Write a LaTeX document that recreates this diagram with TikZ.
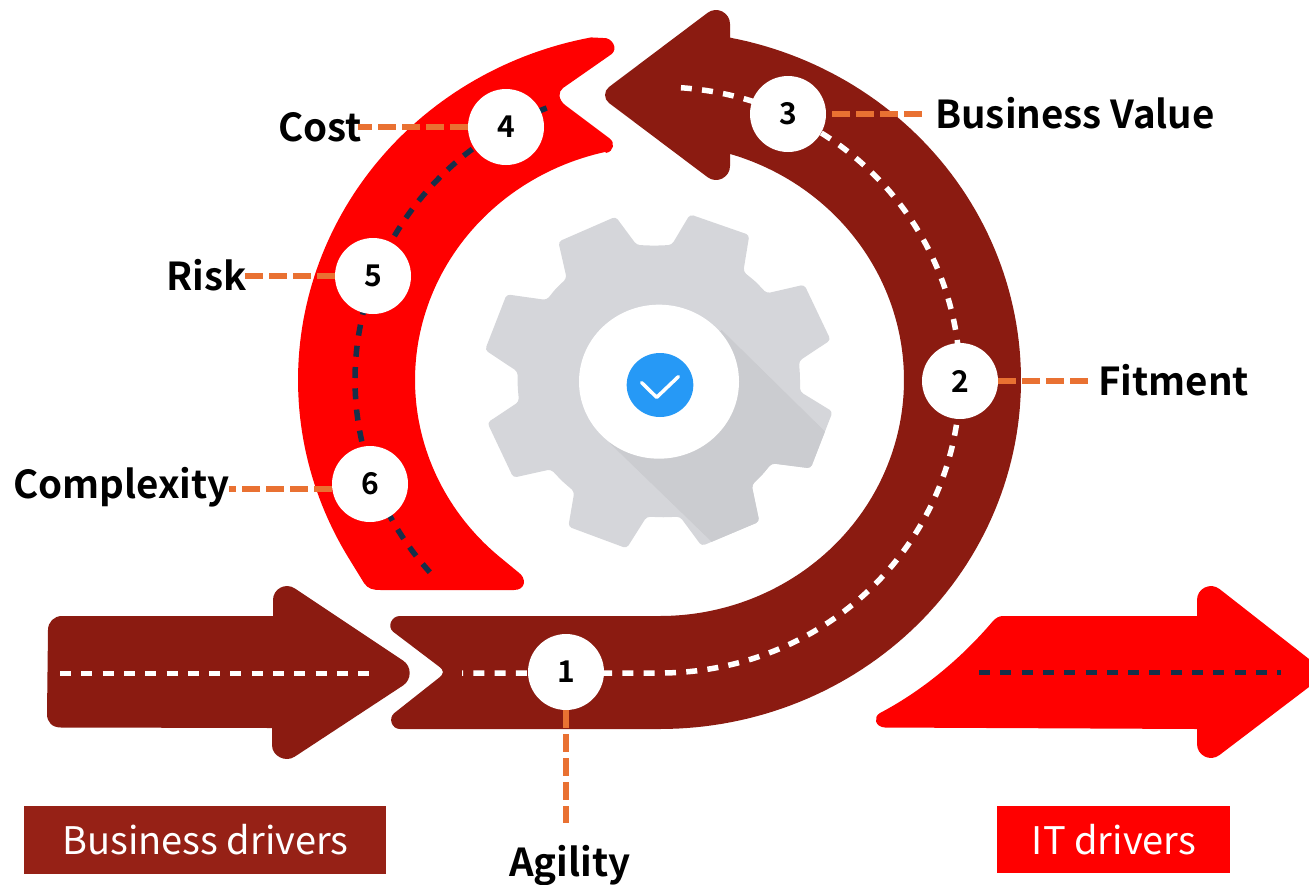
\documentclass[tikz,border=0pt]{standalone}
\usepackage{fontspec}
\setmainfont{Noto Sans CJK SC}[BoldFont={Noto Sans CJK SC Bold}]
\definecolor{darkred}{HTML}{8B1B11}
\definecolor{boxred}{HTML}{962116}
\definecolor{pure}{HTML}{FF0000}
\definecolor{navy}{HTML}{16304A}
\definecolor{orangeline}{HTML}{E97132}
\definecolor{gearcol}{HTML}{D5D6DA}
\definecolor{gearshade}{HTML}{CBCCD0}
\definecolor{tickblue}{HTML}{2699F6}
\tikzset{
  whitedash/.style={draw=white,line width=5.5pt,dash pattern=on 11pt off 10.3pt},
  navydash/.style={draw=navy,line width=5.5pt,dash pattern=on 11pt off 10.3pt},
  conn/.style={draw=orangeline,line width=6pt,dash pattern=on 18pt off 6pt},
  numcircle/.style={circle,fill=white,minimum size=76pt,inner sep=0pt,font=\fontsize{30}{36}\selectfont\bfseries},
  lab/.style={inner sep=0pt,font=\fontsize{38.5}{46}\selectfont\bfseries,text=black},
  boxlab/.style={inner sep=0pt,text=white,font=\fontsize{38}{46}\selectfont},
}
\def\gearpath{(265,125) -- (437,50) -- (500,135) -- (552,137) -- (605,135) -- (660,43) -- (838,105) -- (820,215) -- (857,245) -- (890,280) -- (1003,254) -- (1082,420) -- (987,483) -- (990,529) -- (990,575) -- (1088,635) -- (1022,805) -- (905,790) -- (877,824) -- (845,855) -- (868,965) -- (695,1038) -- (630,950) -- (580,952) -- (530,950) -- (470,1045) -- (295,980) -- (313,875) -- (276,843) -- (243,808) -- (130,833) -- (52,668) -- (147,605) -- (143,560) -- (143,515) -- (45,450) -- (110,283) -- (230,300) -- (258,265) -- (290,235) -- cycle}
\begin{document}
\begin{tikzpicture}[x=1pt,y=-1pt]
\useasboundingbox (0,0) rectangle (1309,884);
% gear
\begin{scope}[shift={(470,200)},x=0.33333pt,y=-0.33333pt]
  \fill[gearcol,rounded corners=3.5pt] \gearpath;
  \begin{scope}
    \clip[rounded corners=3.5pt] \gearpath;
    \fill[gearshade] (755,390) -- (1105,734) -- (820,1117) -- (420,730) -- cycle;
  \end{scope}
  \fill[white] (567,545) ellipse [x radius=240,y radius=231];
  \fill[tickblue] (570,555) ellipse [x radius=100,y radius=96];
  \draw[white,line width=3.5pt,line cap=round,line join=round] (515,548) -- (560,592) -- (625,530);
\end{scope}
% red arc
\fill[pure] plot[domain=149.2:259,samples=90] ({660+362*cos(\x)},{380+349*sin(\x)})
  -- (603,38) .. controls (612,37) and (618.7,48.9) .. (611.3,54.3)
  -- (563,88) .. controls (558,92) and (558,99) .. (565,105)
  -- (609.7,138.5) .. controls (615.3,142.6) and (613.5,151.4) .. (606.6,152.8)
  -- plot[domain=257:130,samples=90] ({660+245*cos(\x)},{380+234*sin(\x)})
  -- (518,572) .. controls (527,578) and (526,590) .. (514,590)
  -- (381,590) .. controls (373,590) and (368,589) .. (364,583) -- cycle;
% dark spiral arrow
\fill[darkred] (660,729) -- plot[domain=90:-78.8,samples=120] ({660+361*cos(\x)},{380+349*sin(\x)})
  -- (730,24) .. controls (730,12.5) and (716.8,5.9) .. (707.6,12.8)
  -- (609,87) .. controls (603.7,91) and (603.7,99) .. (609,103)
  -- (707.6,177.2) .. controls (716.8,184.1) and (730,177.5) .. (730,166)
  -- plot[domain=-73.3:90,samples=120] ({660+244*cos(\x)},{380+236*sin(\x)})
  -- (400,616) .. controls (391.6,616) and (386.8,626.4) .. (393.2,631.8)
  -- (438.3,666) .. controls (444.5,670.5) and (444.5,673.5) .. (438.3,678.3)
  -- (394.5,712.9) .. controls (387.9,718) and (391.6,729) .. (400,729) -- cycle;
% left arrow
\fill[darkred] (62,616) -- (273,616) -- (273,600) .. controls (273,588.8) and (285.5,582.2) .. (294.8,588.4)
  -- (403,660.5) .. controls (411.9,666.4) and (411.9,679.6) .. (403,685.5)
  -- (294.8,756.6) .. controls (285.5,762.8) and (272,756.2) .. (272,745) -- (272,728)
  -- (61,727.5) .. controls (52,727.5) and (47,722) .. (47,714) -- (48,630) .. controls (48,622) and (54,616) .. (62,616) -- cycle;
% right arrow
\fill[pure] (1003,616) -- (1197,616) -- (1197,600) .. controls (1197,588.4) and (1210.3,581.9) .. (1219.5,589)
  -- (1309,659) -- (1309,687) -- (1219.5,755) .. controls (1210.3,762.1) and (1197,755.6) .. (1197,744)
  -- (1197,729) -- (885,727.5) .. controls (875,727) and (873,717) .. (880,713)
  .. controls (920,692) and (960,660) .. (993,621) .. controls (996,618) and (999,616) .. (1003,616) -- cycle;
% dashed centre lines
\draw[whitedash] (60,673.5) -- (371,673.5);
\draw[whitedash,dash phase=10pt] (462,673) -- (660,673) -- plot[domain=90:-86,samples=150] ({660+300*cos(\x)},{380+293*sin(\x)});
\draw[navydash] plot[domain=139:248.5,samples=90] ({660+305*cos(\x)},{380+293*sin(\x)});
\draw[navydash] (979,672.5) -- (1281,672.5);
% boxes
\fill[boxred] (24,806) rectangle (386,874);
\fill[pure] (997,806) rectangle (1230,873);
\node[boxlab] (tbus) at (205.5,840) {Business drivers};
\node[boxlab] (tit) at (1114,840) {IT drivers};
% number circles
\node[numcircle] (n1) at (566,672) {1};
\node[numcircle] (n2) at (960,381) {2};
\node[numcircle] (n3) at (788,114) {3};
\node[numcircle] (n4) at (506,127) {4};
\node[numcircle] (n5) at (373,276) {5};
\node[numcircle] (n6) at (370,484) {6};
% labels
\node[lab,anchor=base west,inner xsep=13pt] (l3) at (922,128) {Business Value};
\node[lab,anchor=base west,inner xsep=10pt] (l2) at (1088,395) {Fitment};
\node[lab,anchor=base east] (l4) at (362,141) {Cost};
\node[lab,anchor=base east] (l5) at (247,290) {Risk};
\node[lab,anchor=base east] (l6) at (230,498) {Complexity};
\node[lab,anchor=base] (l1) at (570,876) {Agility};
% connectors
\coordinate (c4) at (358,127);
\coordinate (c5) at (243,276);
\coordinate (c6) at (229,489);
\coordinate (c1) at (566,823);
\draw[conn,dash phase=18pt] (n3.east) -- (n3.east -| l3.west);
\draw[conn] (n2.east) -- (n2.east -| l2.west);
\draw[conn] (n4.west) -- (c4);
\draw[conn] (n5.west) -- (c5);
\draw[conn] (c6 -| n6.west) -- (c6);
\draw[conn] (n1.south) -- (c1);
\end{tikzpicture}
\end{document}
